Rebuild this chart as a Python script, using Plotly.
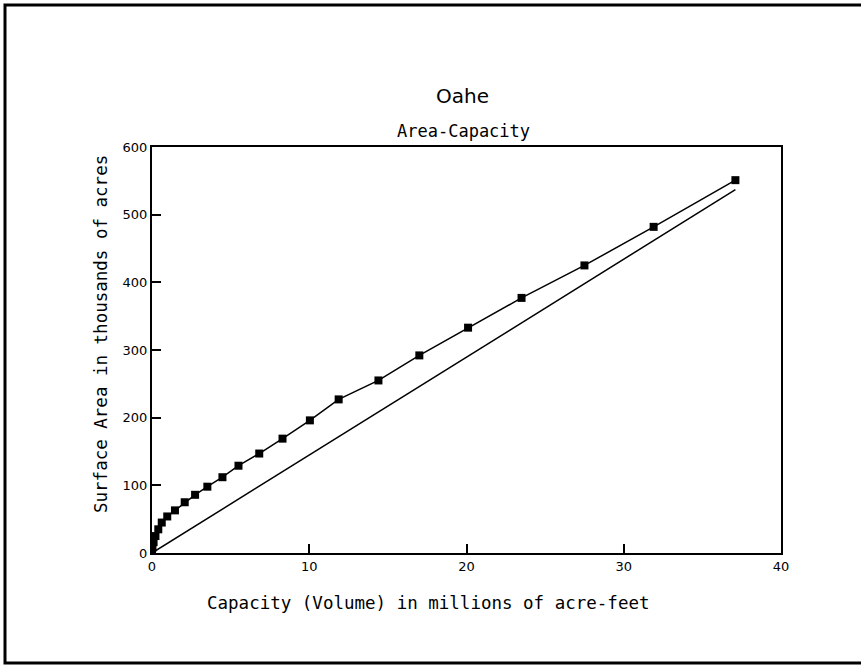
import plotly.graph_objects as go

# Oahe area-capacity readings (capacity in million acre-feet, area in thousand acres)
capacity = [0, 0.03, 0.1, 0.22, 0.4, 0.62, 0.97, 1.46, 2.08, 2.74, 3.52, 4.48,
            5.50, 6.82, 8.30, 10.04, 11.87, 14.4, 17.0, 20.1, 23.5, 27.5, 31.9, 37.1]
area = [0, 8, 16, 25, 35, 45, 54, 63, 75, 86, 98, 112,
        129, 147, 169, 196, 227, 255, 292, 333, 377, 425, 482, 551]

# straight reference line
ref_capacity = [0, 37.1]
ref_area = [0, 537]

x_ticks = [0, 10, 20, 30, 40]
y_ticks = [0, 100, 200, 300, 400, 500, 600]

mono = "DejaVu Sans Mono"
sans = "DejaVu Sans"

W, H = 861, 666
L, R, T, B = 152, 80, 147, 113   # plot area margins in px
pw, ph = W - L - R, H - T - B


def px(x):
    return (x - L) / pw


def py(y):
    return (H - B - y) / ph


fig = go.Figure()
fig.add_trace(go.Scatter(x=ref_capacity, y=ref_area, mode="lines",
                         line=dict(color="black", width=1.5), hoverinfo="skip"))
fig.add_trace(go.Scatter(x=capacity, y=area, mode="lines+markers",
                         line=dict(color="black", width=1.5),
                         marker=dict(symbol="square", size=8, color="black")))

axis_style = dict(showgrid=False, zeroline=False, showline=True, linecolor="black",
                  linewidth=2, mirror=True, ticks="inside", ticklen=9, tickwidth=1.5,
                  tickcolor="black", tickfont=dict(family=sans, size=13, color="black"))

fig.update_xaxes(range=[0, 40], tickvals=x_ticks, **axis_style)
fig.update_yaxes(range=[0, 600], tickvals=y_ticks, **axis_style)

label = dict(xref="paper", yref="paper", showarrow=False,
             xanchor="center", yanchor="middle")

fig.update_layout(
    width=W, height=H,
    margin=dict(l=L, r=R, t=T, b=B),
    paper_bgcolor="white", plot_bgcolor="white",
    showlegend=False,
    annotations=[
        dict(text="Oahe", x=px(462), y=py(96),
             font=dict(family=sans, size=20, color="black"), **label),
        dict(text="Area-Capacity", x=px(463), y=py(131),
             font=dict(family=mono, size=17, color="black"), **label),
        dict(text="Capacity (Volume) in millions of acre-feet", x=px(428), y=py(603),
             font=dict(family=mono, size=17.5, color="black"), **label),
        dict(text="Surface Area in thousands of acres", x=px(101), y=py(334),
             textangle=-90, font=dict(family=mono, size=17.5, color="black"), **label),
    ],
    shapes=[
        # outer page frame (open on the right)
        dict(type="rect", xref="paper", yref="paper", x0=px(5), x1=px(900),
             y0=py(663), y1=py(5), line=dict(color="black", width=3)),
    ],
)

fig.write_html("out.html", config={"displayModeBar": False},
               post_script="document.body.style.margin='0';")
